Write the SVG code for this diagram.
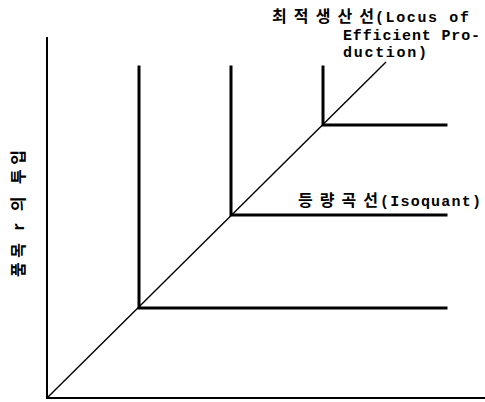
<svg xmlns="http://www.w3.org/2000/svg" width="485" height="402" viewBox="0 0 485 402">
<style>
.ax{stroke:#000;stroke-width:2;fill:none}
.iso{stroke:#000;stroke-width:3;fill:none;stroke-linecap:square}
.diag{stroke:#000;stroke-width:1.4;fill:none}
.ko{font-family:"Noto Sans CJK KR","Noto Sans",sans-serif;font-size:16px;font-weight:bold;fill:#000}
.en{font-family:"Liberation Mono","DejaVu Sans Mono",monospace;font-size:15px;fill:#000;font-weight:bold}
</style>
<rect width="485" height="402" fill="#fff"/>
<g id="axes">
<line class="ax" x1="47" y1="37" x2="47" y2="399"/>
<line class="ax" x1="46" y1="398" x2="485" y2="398"/>
</g>
<g id="connectors">
<line class="diag" x1="47" y1="398" x2="386" y2="62"/>
</g>
<g id="isoquant1">
<polyline class="iso" points="139,67 139,308 446,308"/>
</g>
<g id="isoquant2">
<polyline class="iso" points="231,67 231,215 446,215"/>
</g>
<g id="isoquant3">
<polyline class="iso" points="323,67 323,125 446,125"/>
</g>
<g id="label-locus">
<text class="ko" x="272" y="22" textLength="102" lengthAdjust="spacing">최적생산선</text>
<text class="en" x="375" y="22" textLength="94" lengthAdjust="spacing">(Locus of</text>
<text class="en" x="343" y="40" textLength="137" lengthAdjust="spacing">Efficient Pro-</text>
<text class="en" x="343" y="57" textLength="84" lengthAdjust="spacing">duction)</text>
</g>
<g id="label-isoquant">
<text class="ko" x="298" y="206" textLength="80" lengthAdjust="spacing">등량곡선</text>
<text class="en" x="380" y="206" textLength="101" lengthAdjust="spacing">(Isoquant)</text>
</g>
<g id="label-yaxis">
<text class="ko" transform="translate(24,277) rotate(-90)" x="0" y="0" font-size="14" textLength="127" lengthAdjust="spacing">품목 r 의 투입</text>
</g>
</svg>
